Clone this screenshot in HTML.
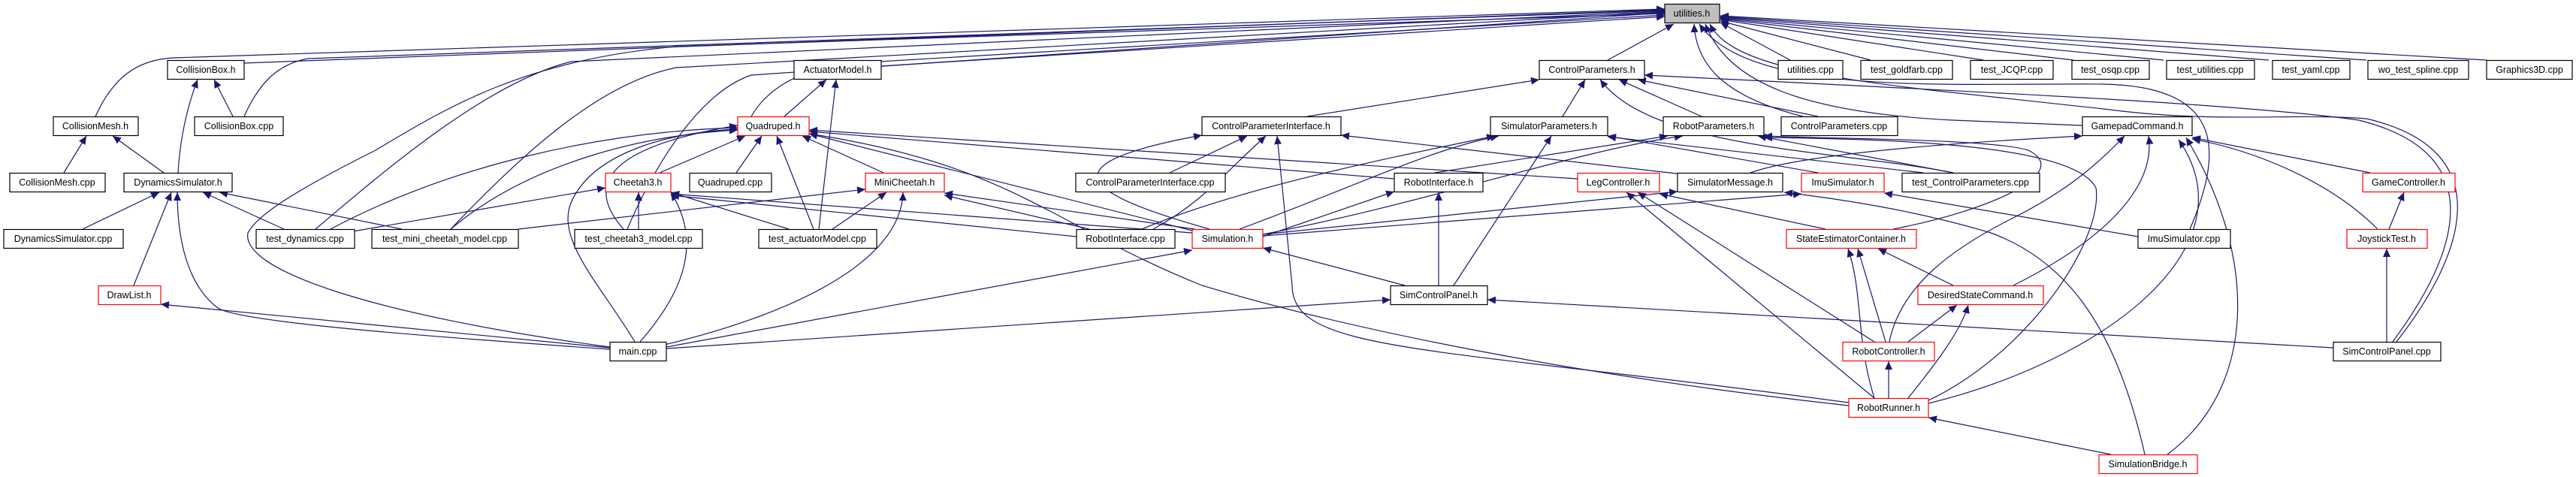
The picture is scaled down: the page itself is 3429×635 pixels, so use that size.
<!DOCTYPE html>
<html><head><meta charset="utf-8"><style>
html,body{margin:0;padding:0;background:#fff}
svg{display:block}
text{font-family:"Liberation Sans",Arial,sans-serif;font-size:12.5px;fill:#000}
</style></head><body>
<svg width="3429" height="635" viewBox="0 0 3429 635" xmlns="http://www.w3.org/2000/svg">
<defs><marker id="a" markerUnits="userSpaceOnUse" markerWidth="12" markerHeight="10" refX="11" refY="5" orient="auto"><path d="M0,0 L11,5 L0,10 z" fill="#191970"/></marker></defs>
<g fill="none" stroke="#191970" stroke-width="1.2" marker-end="url(#a)">
<!-- to utilities.h from left -->
<path d="M127,155 C150,105 180,80 230,77 L2216,12"/>
<path d="M325,84 L2216,13"/>
<path d="M325,155 C345,110 370,85 410,78 L2216,14"/>
<path d="M420,305 C520,220 650,110 760,82 L2216,15"/>
<path d="M600,305 C700,200 800,110 900,90 L2216,16"/>
<path d="M835,305 C880,200 940,120 1000,100 L2216,17"/>
<path d="M812,462 C500,420 320,360 330,310 C340,290 380,260 500,200 C600,140 700,80 900,62 L2216,18"/>
<path d="M1173,88 L2216,22"/>
<path d="M1000,155 C1020,120 1060,95 1120,85 L2216,20"/>
<path d="M2140,80 L2228,32"/>
<path d="M2383,80 L2290,30"/>
<path d="M2490,80 L2290,28"/>
<path d="M2640,80 L2290,26"/>
<path d="M2760,80 L2290,25"/>
<path d="M2880,80 L2290,24"/>
<path d="M3020,80 L2290,23"/>
<path d="M3150,80 L2290,22"/>
<path d="M3310,80 L2290,21"/>
<path d="M2400,155 C2300,130 2258,90 2255,32"/>
<path d="M2915,305 C2960,200 2960,115 2800,112 C2600,110 2330,130 2262,32"/>
<path d="M2772,167 L2600,160 C2400,150 2300,110 2270,32"/>
<path d="M3190,455 C3280,340 3330,200 3150,158 C3050,150 2950,165 2800,145 L2570,120 C2400,100 2300,80 2276,32"/>
<path d="M3185,455 C3270,340 3320,205 3140,160 C3000,140 2700,125 2189,100"/>
<!-- left cluster -->
<path d="M310,155 L285,106"/>
<path d="M237,230 C240,180 250,140 263,106"/>
<path d="M85,230 L115,181"/>
<path d="M218,230 L150,181"/>
<path d="M110,305 L212,256"/>
<path d="M378,305 L270,256"/>
<path d="M535,305 L292,256"/>
<path d="M178,380 L228,256"/>
<path d="M812,465 C600,450 320,430 290,410 C250,380 236,320 236,256"/>
<path d="M812,463 L214,405"/>
<path d="M470,308 L806,250"/>
<path d="M850,305 L850,256"/>
<path d="M690,305 L1152,252"/>
<path d="M1050,305 L893,256"/>
<path d="M1083,305 L1034,181"/>
<path d="M1090,305 L1113,106"/>
<path d="M1108,305 L1180,256"/>
<path d="M1044,155 L1100,106"/>
<path d="M878,230 L992,181"/>
<path d="M980,230 L1014,181"/>
<path d="M1176,230 L1068,181"/>
<path d="M440,305 C600,220 800,175 982,170"/>
<path d="M600,305 C700,220 850,180 982,173"/>
<path d="M830,305 C790,260 780,200 982,167"/>
<path d="M852,455 C900,400 940,330 893,256"/>
<path d="M845,455 C800,380 740,320 760,270 C790,200 900,175 982,172"/>
<path d="M880,460 C1050,420 1200,350 1202,256"/>
<path d="M887,462 L1587,333"/>
<path d="M887,464 L1851,399"/>
<path d="M1587,307 L1077,178"/>
<path d="M1587,310 L893,258"/>
<path d="M1590,305 L1257,257"/>
<path d="M1433,315 L893,260"/>
<path d="M1450,305 L1257,260"/>
<path d="M2461,540 C2100,500 1800,440 1600,380 C1400,300 1350,220 1077,178"/>
<path d="M1856,238 L1077,175"/>
<path d="M2100,238 L1077,173"/>
<!-- middle -->
<path d="M1610,305 C1450,260 1380,220 1600,180"/>
<path d="M1557,230 L1660,181"/>
<path d="M1535,305 C1600,270 1630,230 1685,181"/>
<path d="M2461,536 C1900,460 1720,470 1720,380 L1700,181"/>
<path d="M1650,305 C1800,250 1900,200 1995,181"/>
<path d="M1520,305 C1650,250 1850,210 1990,181"/>
<path d="M1935,380 L2065,181"/>
<path d="M1681,312 C1900,270 2100,200 2240,181"/>
<path d="M1910,230 L2220,181"/>
<path d="M1681,315 L1856,255"/>
<path d="M1915,380 L1915,256"/>
<path d="M1870,380 L1681,330"/>
<path d="M1681,312 L2233,255"/>
<path d="M1681,314 L2398,258"/>
<path d="M1740,155 L2049,106"/>
<path d="M2080,155 L2110,106"/>
<path d="M2265,155 L2155,106"/>
<path d="M2420,155 L2180,106"/>
<path d="M2600,230 C2450,200 2200,200 2130,106"/>
<path d="M2560,230 L2140,182"/>
<path d="M2600,230 L2340,181"/>
<path d="M2420,230 L2140,181"/>
<path d="M2240,232 L1785,180"/>
<!-- right -->
<path d="M2430,305 L2209,258"/>
<path d="M2495,455 L2180,256"/>
<path d="M2495,530 L2165,256"/>
<path d="M2855,605 C2820,450 2760,350 2650,310 C2550,280 2450,265 2375,256"/>
<path d="M2846,315 L2508,257"/>
<path d="M2600,380 L2500,331"/>
<path d="M2510,455 L2473,331"/>
<path d="M2495,530 C2470,450 2480,390 2460,331"/>
<path d="M2540,455 L2605,406"/>
<path d="M2540,530 C2580,480 2610,440 2620,406"/>
<path d="M2514,530 L2514,481"/>
<path d="M2810,605 L2567,556"/>
<path d="M2330,230 C2400,205 2600,190 2772,181"/>
<path d="M2515,455 C2530,380 2600,330 2680,290 C2760,250 2800,210 2828,181"/>
<path d="M2680,380 C2800,320 2870,250 2860,181"/>
<path d="M2567,537 C2800,480 3000,330 2900,186"/>
<path d="M2885,605 C3000,520 3010,350 2910,183"/>
<path d="M3155,230 L2918,183"/>
<path d="M3165,305 C3100,240 3000,200 2918,185"/>
<path d="M3180,305 L3200,256"/>
<path d="M3177,455 L3177,331"/>
<path d="M3106,463 L1980,399"/>
<path d="M2520,305 C2650,280 2760,230 2700,200 C2650,185 2450,185 2348,181"/>
<path d="M2567,533 C2700,470 2800,320 2790,250 C2760,190 2500,185 2348,183"/>
</g>
<g stroke-width="1.2">
<rect x="2216" y="5.5" width="73" height="25" fill="#bfbfbf" stroke="#000"/><text x="2252" y="22" text-anchor="middle">utilities.h</text>
</g>
<g fill="#fff" stroke="#000" stroke-width="1.2">
<rect x="223" y="80.5" width="102" height="25"/>
<rect x="71" y="155.5" width="113" height="25"/>
<rect x="259" y="155.5" width="118" height="25"/>
<rect x="13" y="230.5" width="127" height="25"/>
<rect x="165" y="230.5" width="144" height="25"/>
<rect x="5" y="305.5" width="159" height="25"/>
<rect x="341" y="305.5" width="131" height="25"/>
<rect x="495" y="305.5" width="195" height="25"/>
<rect x="765" y="305.5" width="170" height="25"/>
<rect x="812" y="455.5" width="75" height="25"/>
<rect x="1057" y="80.5" width="116" height="25"/>
<rect x="918" y="230.5" width="109" height="25"/>
<rect x="1010" y="305.5" width="157" height="25"/>
<rect x="1600" y="155.5" width="185" height="25"/>
<rect x="1432" y="230.5" width="199" height="25"/>
<rect x="1433" y="305.5" width="131" height="25"/>
<rect x="2049" y="80.5" width="140" height="25"/>
<rect x="2367" y="80.5" width="86" height="25"/>
<rect x="2477" y="80.5" width="122" height="25"/>
<rect x="2623" y="80.5" width="110" height="25"/>
<rect x="2758" y="80.5" width="103" height="25"/>
<rect x="2884" y="80.5" width="117" height="25"/>
<rect x="3025" y="80.5" width="103" height="25"/>
<rect x="3152" y="80.5" width="134" height="25"/>
<rect x="3310" y="80.5" width="114" height="25"/>
<rect x="1984" y="155.5" width="156" height="25"/>
<rect x="2214" y="155.5" width="134" height="25"/>
<rect x="2371" y="155.5" width="155" height="25"/>
<rect x="2772" y="155.5" width="146" height="25"/>
<rect x="1856" y="230.5" width="118" height="25"/>
<rect x="2233" y="230.5" width="140" height="25"/>
<rect x="2532" y="230.5" width="183" height="25"/>
<rect x="2846" y="305.5" width="123" height="25"/>
<rect x="1851" y="380.5" width="129" height="25"/>
<rect x="3106" y="455.5" width="143" height="25"/>
</g>
<g fill="#fff" stroke="#ff0000" stroke-width="1.2">
<rect x="131" y="380.5" width="83" height="25"/>
<rect x="806" y="230.5" width="87" height="25"/>
<rect x="982" y="155.5" width="95" height="25"/>
<rect x="1152" y="230.5" width="105" height="25"/>
<rect x="1587" y="305.5" width="94" height="25"/>
<rect x="2100" y="230.5" width="109" height="25"/>
<rect x="2398" y="230.5" width="110" height="25"/>
<rect x="3145" y="230.5" width="123" height="25"/>
<rect x="2378" y="305.5" width="173" height="25"/>
<rect x="3124" y="305.5" width="107" height="25"/>
<rect x="2553" y="380.5" width="167" height="25"/>
<rect x="2453" y="455.5" width="122" height="25"/>
<rect x="2461" y="530.5" width="106" height="25"/>
<rect x="2794" y="605.5" width="131" height="25"/>
</g>
<g text-anchor="middle">
<text x="274" y="97">CollisionBox.h</text>
<text x="127" y="172">CollisionMesh.h</text>
<text x="318" y="172">CollisionBox.cpp</text>
<text x="76" y="247">CollisionMesh.cpp</text>
<text x="237" y="247">DynamicsSimulator.h</text>
<text x="84" y="322">DynamicsSimulator.cpp</text>
<text x="406" y="322">test_dynamics.cpp</text>
<text x="592" y="322">test_mini_cheetah_model.cpp</text>
<text x="850" y="322">test_cheetah3_model.cpp</text>
<text x="849" y="472">main.cpp</text>
<text x="1115" y="97">ActuatorModel.h</text>
<text x="972" y="247">Quadruped.cpp</text>
<text x="1088" y="322">test_actuatorModel.cpp</text>
<text x="1692" y="172">ControlParameterInterface.h</text>
<text x="1531" y="247">ControlParameterInterface.cpp</text>
<text x="1498" y="322">RobotInterface.cpp</text>
<text x="2119" y="97">ControlParameters.h</text>
<text x="2410" y="97">utilities.cpp</text>
<text x="2538" y="97">test_goldfarb.cpp</text>
<text x="2678" y="97">test_JCQP.cpp</text>
<text x="2809" y="97">test_osqp.cpp</text>
<text x="2942" y="97">test_utilities.cpp</text>
<text x="3076" y="97">test_yaml.cpp</text>
<text x="3219" y="97">wo_test_spline.cpp</text>
<text x="3367" y="97">Graphics3D.cpp</text>
<text x="2062" y="172">SimulatorParameters.h</text>
<text x="2281" y="172">RobotParameters.h</text>
<text x="2448" y="172">ControlParameters.cpp</text>
<text x="2845" y="172">GamepadCommand.h</text>
<text x="1915" y="247">RobotInterface.h</text>
<text x="2303" y="247">SimulatorMessage.h</text>
<text x="2623" y="247">test_ControlParameters.cpp</text>
<text x="2907" y="322">ImuSimulator.cpp</text>
<text x="1915" y="397">SimControlPanel.h</text>
<text x="3177" y="472">SimControlPanel.cpp</text>
<text x="172" y="397">DrawList.h</text>
<text x="849" y="247">Cheetah3.h</text>
<text x="1029" y="172">Quadruped.h</text>
<text x="1204" y="247">MiniCheetah.h</text>
<text x="1634" y="322">Simulation.h</text>
<text x="2154" y="247">LegController.h</text>
<text x="2453" y="247">ImuSimulator.h</text>
<text x="3206" y="247">GameController.h</text>
<text x="2464" y="322">StateEstimatorContainer.h</text>
<text x="3177" y="322">JoystickTest.h</text>
<text x="2636" y="397">DesiredStateCommand.h</text>
<text x="2514" y="472">RobotController.h</text>
<text x="2514" y="547">RobotRunner.h</text>
<text x="2859" y="622">SimulationBridge.h</text>
</g>
</svg>
</body></html>
